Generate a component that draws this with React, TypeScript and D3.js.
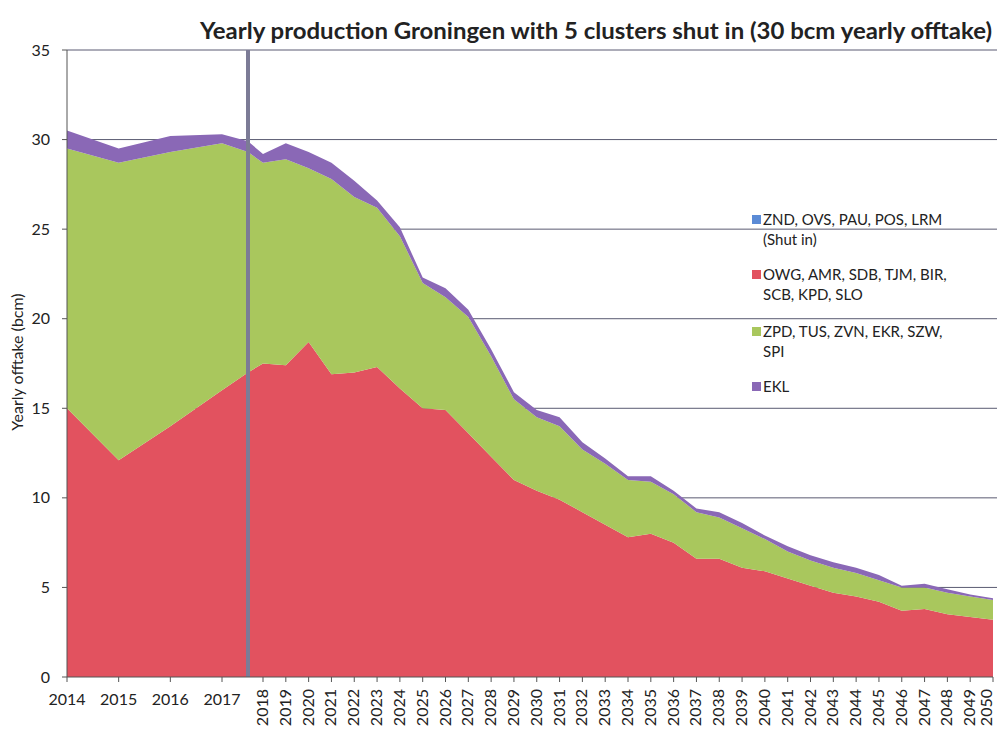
import React from "react";
import * as d3 from "d3";

const years: number[] = [2014, 2015, 2016, 2017, 2017.5, 2018, 2019, 2020, 2021, 2022, 2023, 2024, 2025, 2026, 2027, 2028, 2029, 2030, 2031, 2032, 2033, 2034, 2035, 2036, 2037, 2038, 2039, 2040, 2041, 2042, 2043, 2044, 2045, 2046, 2047, 2048, 2049, 2050];

const shutIn: number[] = years.map(() => 0);
const owgGroup: number[] = [15.0, 12.1, 14.0, 16.0, 17.0, 17.5, 17.4, 18.7, 16.9, 17.0, 17.3, 16.1, 15.0, 14.9, 13.6, 12.3, 11.0, 10.4, 9.9, 9.2, 8.5, 7.8, 8.0, 7.5, 6.6, 6.6, 6.1, 5.9, 5.5, 5.1, 4.7, 4.5, 4.2, 3.7, 3.8, 3.5, 3.35, 3.2];
const zpdGroup: number[] = [14.5, 16.6, 15.3, 13.8, 12.3, 11.2, 11.5, 9.7, 10.9, 9.8, 8.9, 8.5, 7.0, 6.3, 6.5, 5.6, 4.5, 4.1, 4.1, 3.5, 3.4, 3.2, 2.9, 2.7, 2.6, 2.3, 2.2, 1.8, 1.5, 1.4, 1.4, 1.3, 1.2, 1.3, 1.2, 1.2, 1.15, 1.1];
const ekl: number[] = [1.0, 0.8, 0.9, 0.5, 0.6, 0.5, 0.9, 0.9, 0.9, 0.9, 0.4, 0.5, 0.3, 0.5, 0.4, 0.4, 0.4, 0.4, 0.5, 0.4, 0.3, 0.2, 0.3, 0.2, 0.2, 0.3, 0.3, 0.2, 0.3, 0.3, 0.3, 0.3, 0.3, 0.1, 0.2, 0.2, 0.1, 0.1];

const seriesKeys = ["shut", "owg", "zpd", "ekl"];
const seriesColors: Record<string, string> = { shut: "#5b8bd6", owg: "#e2525f", zpd: "#a9c75d", ekl: "#8a68b6" };
const legendLines: string[][] = [
  ["ZND, OVS, PAU, POS, LRM", "(Shut in)"],
  ["OWG, AMR, SDB, TJM, BIR,", "SCB, KPD, SLO"],
  ["ZPD, TUS, ZVN, EKR, SZW,", "SPI"],
  ["EKL"],
];
const yTicks: number[] = [0, 5, 10, 15, 20, 25, 30, 35];
const tickYears: number[] = years.filter((y) => Number.isInteger(y));
const markerYear = 2017.5;
const title = "Yearly production Groningen with 5 clusters shut in (30 bcm yearly offtake)";
const yLabel = "Yearly offtake (bcm)";

const W = 997;
const H = 729;
const FONT = "Lato, 'Open Sans', sans-serif";

export default function App() {
  const x = d3.scaleLinear().domain([2014, 2017, 2017.5, 2018, 2050]).range([67, 222, 248, 263, 993]);
  const y = d3.scaleLinear().domain([0, 35]).range([677, 50]);

  const table = years.map((yr, i) => ({ year: yr, shut: shutIn[i], owg: owgGroup[i], zpd: zpdGroup[i], ekl: ekl[i] }));
  const stack = d3.stack<any>().keys(seriesKeys);
  const layers = stack(table);
  const area = d3
    .area<any>()
    .x((d) => x(d.data.year))
    .y0((d) => y(d[0]))
    .y1((d) => y(d[1]));

  const legendX = 752;
  const legendTops = [225, 280, 337, 392];

  return (
    <svg width={W} height={H} style={{ position: "absolute", left: 0, top: 0, background: "#fff" }} fontFamily={FONT}>
      <rect x={0} y={0} width={W} height={H} fill="#fff" />
      {/* gridlines */}
      {yTicks.filter((t) => t > 0).map((t) => (
        <line key={t} x1={67} x2={997} y1={y(t)} y2={y(t)} stroke="#5a5b72" strokeWidth={1} />
      ))}
      {/* areas */}
      {layers.map((layer) => (
        <path key={layer.key} d={area(layer) || ""} fill={seriesColors[layer.key]} />
      ))}
      {/* marker line */}
      <line x1={x(markerYear)} x2={x(markerYear)} y1={y(35)} y2={y(0)} stroke="#7c7b96" strokeWidth={4} />
      {/* y axis */}
      <line x1={67} x2={67} y1={y(35)} y2={y(0)} stroke="#555" strokeWidth={1} />
      {yTicks.map((t) => (
        <g key={t}>
          <line x1={62} x2={67} y1={y(t)} y2={y(t)} stroke="#555" />
          <text x={50} y={y(t)} dy="0.35em" textAnchor="end" fontSize={16} fill="#222">
            {t}
          </text>
        </g>
      ))}
      <text transform={`translate(23,${362}) rotate(-90)`} textAnchor="middle" fontSize={16} fill="#222">
        {yLabel}
      </text>
      {/* x axis */}
      <line x1={67} x2={993} y1={y(0)} y2={y(0)} stroke="#555" strokeWidth={1} />
      {tickYears.map((t) => (
        <g key={t}>
          <line x1={x(t)} x2={x(t)} y1={y(0)} y2={y(0) + 5} stroke="#555" />
          {t <= 2017 ? (
            <text x={x(t)} y={705} textAnchor="middle" fontSize={16} fill="#222">
              {t}
            </text>
          ) : (
            <text transform={`translate(${Math.min(x(t) + 5, 992)},${689}) rotate(-90)`} textAnchor="end" fontSize={16} fill="#222">
              {t}
            </text>
          )}
        </g>
      ))}
      {/* title */}
      <text x={200} y={39} fontSize={22} fontWeight="bold" fill="#222" textLength={792} lengthAdjust="spacingAndGlyphs">
        {title}
      </text>
      {/* legend */}
      {seriesKeys.map((k, i) => (
        <g key={k}>
          <rect x={legendX} y={legendTops[i] - 10} width={9} height={9} fill={seriesColors[k]} />
          {legendLines[i].map((ln, j) => (
            <text key={j} x={legendX + 11} y={legendTops[i] + j * 20} fontSize={15} fill="#222">
              {ln}
            </text>
          ))}
        </g>
      ))}
    </svg>
  );
}
